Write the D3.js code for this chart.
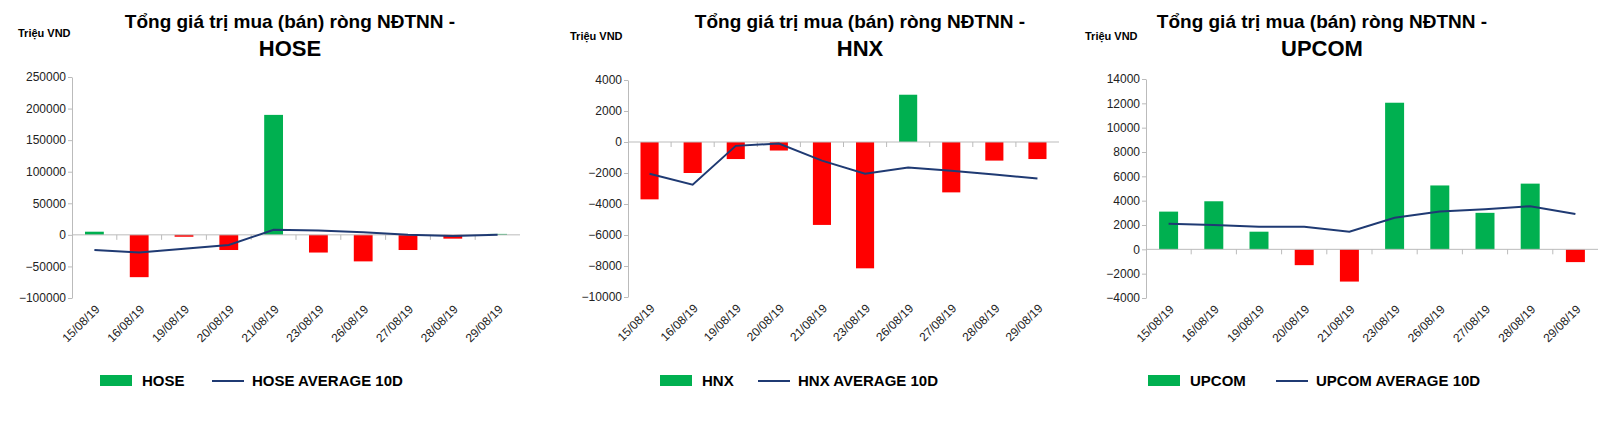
<!DOCTYPE html>
<html><head><meta charset="utf-8">
<script src="https://cdn.jsdelivr.net/npm/d3@7"></script>
<style>body{margin:0;background:#fff;font-family:Arial,"Liberation Sans",sans-serif}</style>
</head><body><svg id="c" width="1600" height="428"></svg>
<script>
const dates = ["15/08/19","16/08/19","19/08/19","20/08/19","21/08/19","23/08/19","26/08/19","27/08/19","28/08/19","29/08/19"];

const hoseNet = [5000,-67000,-3000,-24000,190000,-28000,-42000,-24000,-6000,1500];
const hoseAvg = [-24000,-28000,-22000,-16000,8000,7000,4000,0,-2000,0];
const hoseTicks = [-100000,-50000,0,50000,100000,150000,200000,250000];

const hnxNet = [-3700,-2000,-1100,-550,-5350,-8150,3050,-3250,-1200,-1100];
const hnxAvg = [-2050,-2750,-250,-100,-1200,-2050,-1650,-1850,-2100,-2350];
const hnxTicks = [-10000,-8000,-6000,-4000,-2000,0,2000,4000];

const upcomNet = [3100,3950,1450,-1300,-2650,12050,5250,3000,5400,-1050];
const upcomAvg = [2100,2000,1850,1850,1450,2600,3100,3300,3550,2900];
const upcomTicks = [-4000,-2000,0,2000,4000,6000,8000,10000,12000,14000];

const svg = d3.select("#c");

function drawPanel(o) {
  const g = svg.append("g");
  const x = d3.scaleBand().domain(dates).range([o.left, o.right]).paddingInner(0).paddingOuter(0);
  const y = d3.scaleLinear().domain(d3.extent(o.ticks)).range([o.bottom, o.top]);
  const bw = x.bandwidth() * 0.42;

  // title
  g.append("text").attr("x", o.tx).attr("y", 28).attr("text-anchor", "middle")
    .style("font-size", "19px").style("font-weight", "bold").text(o.title1);
  g.append("text").attr("x", o.tx).attr("y", 56).attr("text-anchor", "middle")
    .style("font-size", "22px").style("font-weight", "bold").text(o.title2);
  g.append("text").attr("x", o.ux).attr("y", o.uy).style("font-size", "11px")
    .style("font-weight", "bold").text("Triệu VND");

  // y axis
  const ya = g.append("g").attr("transform", `translate(${o.left},0)`)
    .call(d3.axisLeft(y).tickValues(o.ticks).tickSize(0).tickPadding(6).tickFormat(d3.format("d")));
  ya.select(".domain").attr("stroke", "#bbb");
  ya.selectAll("text").style("font-size", "12px").attr("fill", "#222");
  ya.selectAll(".tick").append("line").attr("x1", -4).attr("x2", 0).attr("stroke", "#bbb");

  // bars
  g.selectAll(".bar").data(o.net).enter().append("rect")
    .attr("x", (d, i) => x(dates[i]) + (x.bandwidth() - bw) / 2)
    .attr("y", d => y(Math.max(0, d)))
    .attr("width", bw)
    .attr("height", d => Math.abs(y(d) - y(0)))
    .attr("fill", d => d >= 0 ? "#00b050" : "#ff0000");

  // zero axis with ticks
  g.append("line").attr("x1", o.left).attr("x2", o.right).attr("y1", y(0)).attr("y2", y(0)).attr("stroke", "#bbb");
  g.selectAll(".xt").data(dates.slice(1)).enter().append("line")
    .attr("x1", d => x(d)).attr("x2", d => x(d)).attr("y1", y(0)).attr("y2", y(0) + 5).attr("stroke", "#bbb");

  // avg line
  g.append("path").datum(o.avg)
    .attr("d", d3.line().x((d, i) => x(dates[i]) + x.bandwidth() / 2).y(d => y(d)))
    .attr("fill", "none").attr("stroke", "#1f3a73").attr("stroke-width", 2);

  // x labels
  g.selectAll(".xl").data(dates).enter().append("text")
    .attr("transform", d => `translate(${x(d) + x.bandwidth() / 2 + 6},${o.bottom + 12}) rotate(-45)`)
    .attr("text-anchor", "end").style("font-size", "12px").attr("fill", "#222").text(d => d);

  // legend
  const lx = o.lx, ly = 381;
  g.append("rect").attr("x", lx).attr("y", ly - 6).attr("width", 32).attr("height", 11).attr("fill", "#00b050");
  g.append("text").attr("x", lx + 42).attr("y", ly + 5).style("font-size", "15px").style("font-weight", "bold").text(o.name);
  const l2 = lx + o.l2off;
  g.append("line").attr("x1", l2).attr("x2", l2 + 32).attr("y1", ly).attr("y2", ly).attr("stroke", "#1f3a73").attr("stroke-width", 2);
  g.append("text").attr("x", l2 + 40).attr("y", ly + 5).style("font-size", "15px").style("font-weight", "bold").text(o.name + " AVERAGE 10D");
}

drawPanel({net: hoseNet, avg: hoseAvg, ticks: hoseTicks, left: 72, right: 520, top: 77, bottom: 298,
  title1: "Tổng giá trị mua (bán) ròng NĐTNN -", title2: "HOSE", tx: 290, ux: 18, uy: 37, name: "HOSE", lx: 100, l2off: 112});
drawPanel({net: hnxNet, avg: hnxAvg, ticks: hnxTicks, left: 628, right: 1059, top: 80, bottom: 297,
  title1: "Tổng giá trị mua (bán) ròng NĐTNN -", title2: "HNX", tx: 860, ux: 570, uy: 40, name: "HNX", lx: 660, l2off: 98});
drawPanel({net: upcomNet, avg: upcomAvg, ticks: upcomTicks, left: 1146, right: 1598, top: 79, bottom: 298,
  title1: "Tổng giá trị mua (bán) ròng NĐTNN -", title2: "UPCOM", tx: 1322, ux: 1085, uy: 40, name: "UPCOM", lx: 1148, l2off: 128});
</script></body></html>
